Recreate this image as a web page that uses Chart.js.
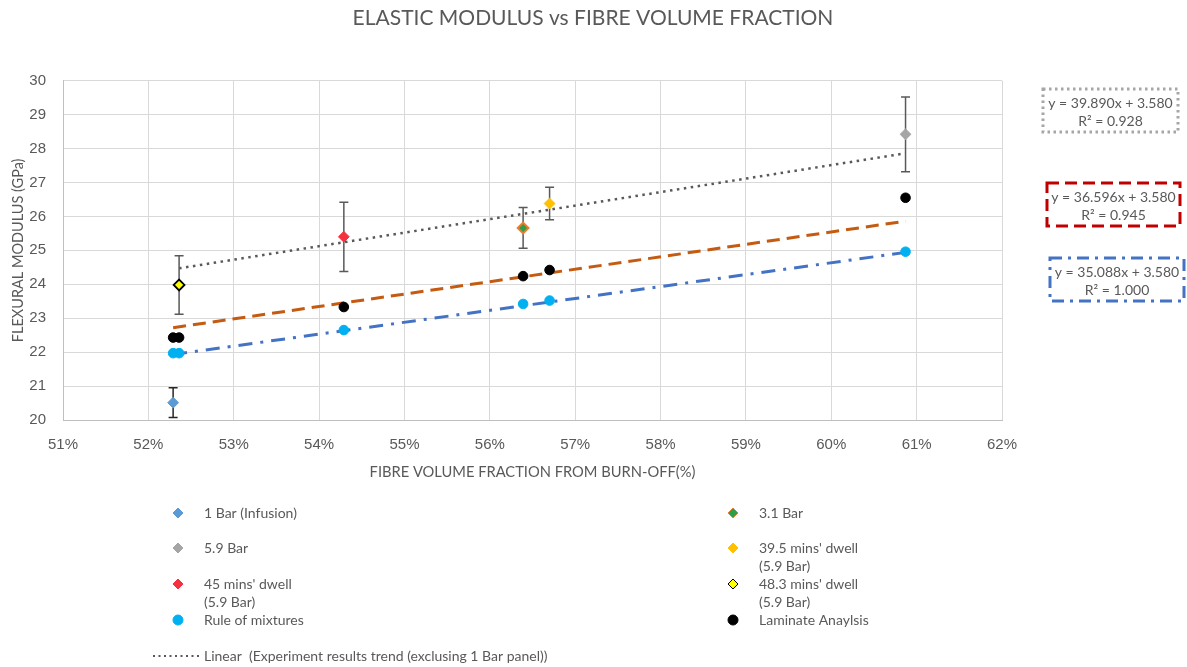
<!DOCTYPE html>
<html>
<head>
<meta charset="utf-8">
<title>Elastic modulus vs fibre volume fraction</title>
<script src="https://cdn.jsdelivr.net/npm/chart.js@4.4.0/dist/chart.umd.min.js"></script>
<style>
  html, body { margin: 0; background: #fff; }
  #wrap { width: 1187px; height: 667px; }
</style>
</head>
<body>
<div id="wrap"><canvas id="chart"></canvas></div>
<script>
// 1) Values (x in %, y in GPa)
const xMin = 51, xMax = 62;
const yMin = 20, yMax = 30;

const oneBarX = [52.29],  oneBarY = [20.51],  oneBarErr = [0.44];
const threeBarX = [56.39], threeBarY = [25.66], threeBarErr = [0.60];
const sixBarX = [60.87],   sixBarY = [28.42],   sixBarErr = [1.10];
const dwell395X = [56.70], dwell395Y = [26.38], dwell395Err = [0.48];
const dwell45X = [54.29],  dwell45Y = [25.40],  dwell45Err = [1.02];
const dwell483X = [52.36], dwell483Y = [23.98], dwell483Err = [0.86];

const romX = [52.29, 52.36, 54.29, 56.39, 56.70, 60.87];
const romY = [21.97, 21.97, 22.65, 23.42, 23.52, 24.96];
const lamX = [52.29, 52.36, 54.29, 56.39, 56.70, 60.87];
const lamY = [22.43, 22.43, 23.33, 24.24, 24.42, 26.55];

// trend line end points
const expTrendX = [52.36, 60.87], expTrendY = [24.47, 27.86];
const lamTrendX = [52.29, 60.87], lamTrendY = [22.72, 25.86];
const romTrendX = [52.29, 60.87], romTrendY = [21.93, 24.94];

const chartTitle = 'ELASTIC MODULUS vs FIBRE VOLUME FRACTION';
const equations = [
  ['y = 39.890x + 3.580', 'R² = 0.928'],
  ['y = 36.596x + 3.580', 'R² = 0.945'],
  ['y = 35.088x + 3.580', 'R² = 1.000']
];

const pts = (xs, ys) => xs.map((x, i) => ({ x, y: ys[i] }));
const grey = '#595959';
const textFont = 'Lato, "Liberation Sans", sans-serif';
const tickFont = '"Liberation Sans", Arial, sans-serif';

// 2) Error bars drawn under the markers
const errorBars = {
  id: 'errorBars',
  beforeDatasetsDraw(chart) {
    const { ctx, scales: { y } } = chart;
    chart.data.datasets.forEach((ds, i) => {
      if (!ds.errors) return;
      chart.getDatasetMeta(i).data.forEach((pt, j) => {
        const v = ds.data[j].y, e = ds.errors[j];
        const top = y.getPixelForValue(v + e), bot = y.getPixelForValue(v - e);
        ctx.save();
        ctx.strokeStyle = ds.errorColor || grey;
        ctx.lineWidth = 1.5;
        ctx.beginPath();
        ctx.moveTo(pt.x, top); ctx.lineTo(pt.x, bot);
        ctx.moveTo(pt.x - 4.5, top); ctx.lineTo(pt.x + 4.5, top);
        ctx.moveTo(pt.x - 4.5, bot); ctx.lineTo(pt.x + 4.5, bot);
        ctx.stroke();
        ctx.restore();
      });
    });
  }
};

// 3) Title, legend under the axis + equation boxes on the right
const legendSlots = [
  [178, 513], [733, 513], [178, 548], [733, 548],
  [178, 584], [733, 584], [178, 620], [733, 620]
];
const eqBoxes = [
  { x: 1043, y: 89,  w: 135, h: 43, color: '#A6A6A6', dash: [2.5, 3.5] },
  { x: 1047, y: 183, w: 133, h: 43, color: '#C00000', dash: [12, 6] },
  { x: 1050, y: 258, w: 134, h: 43, color: '#4472C4', dash: [12, 6, 3, 6] }
];

const extras = {
  id: 'extras',
  afterDraw(chart) {
    const ctx = chart.ctx;
    ctx.save();
    ctx.textBaseline = 'middle';
    ctx.fillStyle = grey;

    // title, centred on the whole picture
    ctx.font = '21px ' + textFont;
    ctx.textAlign = 'center';
    ctx.fillText(chartTitle, 593, 18);

    ctx.font = '14px ' + textFont;
    ctx.textAlign = 'left';
    chart.data.datasets.forEach((ds, i) => {
      const slot = legendSlots[i];
      if (!slot) return;
      const [mx, my] = slot;
      ctx.save();
      ctx.fillStyle = ds.backgroundColor;
      ctx.strokeStyle = ds.borderColor;
      Chart.helpers.drawPoint(ctx, {
        pointStyle: ds.pointStyle, radius: 5, rotation: 0,
        borderWidth: ds.pointBorderWidth || 1
      }, mx, my);
      ctx.restore();
      ds.label.split('\n').forEach((line, k) => {
        ctx.fillText(line, mx + 26, my + k * 18);
      });
    });

    // trend line entry
    ctx.save();
    ctx.strokeStyle = grey;
    ctx.lineWidth = 2;
    ctx.setLineDash([2, 3.5]);
    ctx.beginPath();
    ctx.moveTo(153, 656); ctx.lineTo(199, 656);
    ctx.stroke();
    ctx.restore();
    ctx.fillText('Linear  (Experiment results trend (exclusing 1 Bar panel))', 204, 656);

    // equation boxes
    ctx.font = '14px ' + textFont;
    ctx.textAlign = 'center';
    eqBoxes.forEach((b, i) => {
      ctx.save();
      ctx.strokeStyle = b.color;
      ctx.lineWidth = 3;
      ctx.setLineDash(b.dash);
      ctx.strokeRect(b.x, b.y, b.w, b.h);
      ctx.restore();
      ctx.fillText(equations[i][0], b.x + b.w / 2, b.y + 14);
      ctx.fillText(equations[i][1], b.x + b.w / 2, b.y + 32);
    });
    ctx.restore();
  }
};

// 4) Build the chart
const marker = (label, xs, ys, errs, style, bg, border, extra) => Object.assign({
  type: 'scatter', label, data: pts(xs, ys), errors: errs,
  pointStyle: style, pointRadius: style === 'circle' ? 4.8 : 5.4,
  backgroundColor: bg, borderColor: border, pointBorderWidth: 1
}, extra || {});

const trend = (label, xs, ys, color, dash, width) => ({
  type: 'line', label, data: pts(xs, ys),
  borderColor: color, borderDash: dash, borderWidth: width,
  pointRadius: 0, fill: false, tension: 0
});

new Chart(document.getElementById('chart'), {
  type: 'scatter',
  data: {
    datasets: [
      marker('1 Bar (Infusion)', oneBarX, oneBarY, oneBarErr, 'rectRot', '#5B9BD5', '#5B9BD5', { errorColor: '#262626' }),
      marker('3.1 Bar', threeBarX, threeBarY, threeBarErr, 'rectRot', '#2E9E48', '#ED7D31', { pointBorderWidth: 2 }),
      marker('5.9 Bar', sixBarX, sixBarY, sixBarErr, 'rectRot', '#A5A5A5', '#A5A5A5'),
      marker("39.5 mins' dwell\n(5.9 Bar)", dwell395X, dwell395Y, dwell395Err, 'rectRot', '#FFC000', '#FFC000'),
      marker("45 mins' dwell\n(5.9 Bar)", dwell45X, dwell45Y, dwell45Err, 'rectRot', '#F5313F', '#F5313F'),
      marker("48.3 mins' dwell\n(5.9 Bar)", dwell483X, dwell483Y, dwell483Err, 'rectRot', '#FFFF00', '#000000', { pointBorderWidth: 1.8 }),
      marker('Rule of mixtures', romX, romY, null, 'circle', '#00B0F0', '#00B0F0'),
      marker('Laminate Anaylsis', lamX, lamY, null, 'circle', '#000000', '#000000'),
      trend('Linear (Experiment results trend)', expTrendX, expTrendY, grey, [2.5, 4.5], 2.5),
      trend('Laminate trend', lamTrendX, lamTrendY, '#C55A11', [13, 7], 3),
      trend('Rule of mixtures trend', romTrendX, romTrendY, '#4472C4', [14, 8, 3, 8], 3)
    ]
  },
  options: {
    responsive: true,
    maintainAspectRatio: false,
    animation: false,
    layout: { padding: { left: 0, right: 185, top: 80.7, bottom: 177 } },
    plugins: {
      legend: { display: false },
      tooltip: { enabled: false },
      title: { display: false }
    },
    scales: {
      x: {
        type: 'linear', min: xMin, max: xMax,
        afterFit: s => { s.height = 70; },
        grid: { color: '#D9D9D9', drawTicks: false },
        border: { color: '#BFBFBF' },
        ticks: {
          stepSize: 1, padding: 16, color: grey,
          font: { family: tickFont, size: 15 },
          callback: v => v + '%'
        },
        title: {
          display: true, text: 'FIBRE VOLUME FRACTION FROM BURN-OFF(%)',
          color: grey, font: { family: textFont, size: 14.7 },
          padding: { top: 0, bottom: 8.6 }
        }
      },
      y: {
        min: yMin, max: yMax,
        afterFit: s => { s.width = 63; },
        grid: { color: '#D9D9D9', drawTicks: false },
        border: { color: '#BFBFBF' },
        ticks: {
          stepSize: 1, padding: 17, color: grey,
          font: { family: tickFont, size: 15 }
        },
        title: {
          display: true, text: 'FLEXURAL MODULUS (GPa)',
          color: grey, font: { family: textFont, size: 14.5 },
          padding: { top: 10, bottom: 0 }
        }
      }
    }
  },
  plugins: [errorBars, extras]
});
</script>
</body>
</html>
